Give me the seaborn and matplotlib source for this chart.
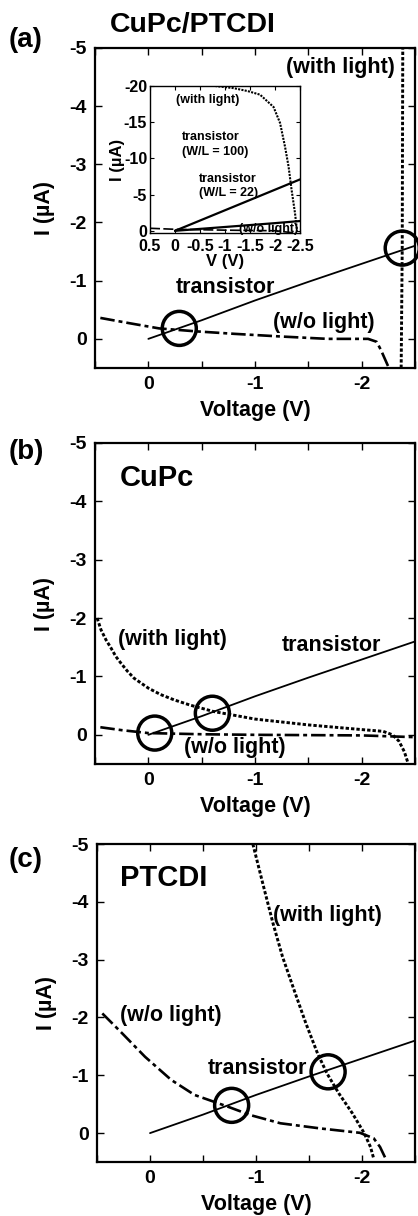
import numpy as np
import pandas as pd
import matplotlib
matplotlib.use("Agg")
import matplotlib.pyplot as plt
import seaborn as sns

sns.set_style("ticks")
plt.rcParams["font.family"] = ["Liberation Sans", "DejaVu Sans"]
plt.rcParams["font.weight"] = "bold"
plt.rcParams["axes.unicode_minus"] = False
for key in ["text.color", "axes.labelcolor", "xtick.color", "ytick.color", "axes.edgecolor"]:
    plt.rcParams[key] = "black"

# ---- panel (a): CuPc/PTCDI ----
a_tr_v = [0.0, -0.5, -1.0, -1.5, -2.0, -2.5]
a_tr_i = [0.0, -0.32, -0.66, -0.98, -1.29, -1.60]
a_dark_v = [0.45, 0.18, -0.1, -0.44, -0.81, -1.25, -1.68, -2.06, -2.14, -2.18, -2.25, -2.26]
a_dark_i = [-0.36, -0.27, -0.18, -0.13, -0.086, -0.04, 0.0, 0.0, 0.05, 0.19, 0.48, 0.5]
a_light_v = [-2.37, -2.38, -2.385]
a_light_i = [0.5, -1.56, -5.0]
a_circ_v = [-0.29, -2.38]
a_circ_i = [-0.18, -1.56]

# inset of (a): wide current range
ins_light_v = [-0.8, -1.17, -1.45, -1.7, -1.97, -2.1, -2.2, -2.27, -2.33, -2.4, -2.43, -2.44]
ins_light_i = [-20.0, -19.7, -19.3, -18.8, -17.1, -14.9, -11.6, -8.9, -5.7, -2.4, -0.6, 0.0]
ins_tr100_v = [0.0, -2.5]
ins_tr100_i = [0.0, -7.1]
ins_tr22_v = [0.0, -1.0, -2.0, -2.5]
ins_tr22_i = [0.0, -0.53, -1.06, -1.35]
ins_dark_v = [0.5, 0.0, -1.0, -2.0, -2.4]
ins_dark_i = [-0.35, -0.21, -0.09, -0.01, 0.3]

# ---- panel (b): CuPc ----
b_tr_v = a_tr_v
b_tr_i = a_tr_i
b_light_v = [0.48, 0.444, 0.398, 0.351, 0.304, 0.258, 0.196, 0.134, 0.071, 0.0, -0.115, -0.24,
             -0.39, -0.61, -1.0, -1.5, -2.0, -2.2, -2.29, -2.35, -2.4, -2.43]
b_light_i = [-2.0, -1.8, -1.63, -1.49, -1.34, -1.23, -1.09, -0.97, -0.89, -0.80, -0.69, -0.60,
             -0.51, -0.40, -0.27, -0.17, -0.09, -0.06, 0.0, 0.11, 0.29, 0.46]
b_dark_v = [0.45, 0.25, 0.0, -0.5, -1.0, -2.0, -2.5]
b_dark_i = [-0.13, -0.08, -0.03, -0.01, 0.0, 0.01, 0.04]
b_circ_v = [-0.06, -0.6]
b_circ_i = [-0.03, -0.37]

# ---- panel (c): PTCDI ----
c_tr_v = a_tr_v
c_tr_i = a_tr_i
c_light_v = [-0.97, -1.08, -1.16, -1.25, -1.36, -1.47, -1.58, -1.67, -1.78, -1.91, -2.02, -2.08, -2.11]
c_light_i = [-5.0, -4.2, -3.63, -3.05, -2.47, -1.9, -1.38, -1.03, -0.69, -0.34, 0.0, 0.24, 0.44]
c_dark_v = [0.45, 0.265, 0.047, -0.2, -0.42, -0.73, -0.95, -1.23, -1.61, -1.98, -2.11, -2.17, -2.23]
c_dark_i = [-2.07, -1.73, -1.32, -0.92, -0.66, -0.46, -0.31, -0.17, -0.08, -0.005, 0.09, 0.24, 0.47]
c_circ_v = [-0.77, -1.68]
c_circ_i = [-0.48, -1.06]

main_ticks_x = [0, -1, -2]
main_ticks_y = [0, -1, -2, -3, -4, -5]
ins_ticks_x = [0.5, 0, -0.5, -1, -1.5, -2, -2.5]
ins_tick_labels_x = ["0.5", "0", "-0.5", "-1", "-1.5", "-2", "-2.5"]
ins_ticks_y = [0, -5, -10, -15, -20]

DOT = (0, (1.15, 0.7))
DASHDOT = (0, (5.5, 1.5, 1.5, 1.5))

LABEL_FS = 15.5


def line(ax, v, i, ls, lw=1.3):
    df = pd.DataFrame({"V": v, "I": i})
    sns.lineplot(data=df, x="V", y="I", ax=ax, sort=False, estimator=None,
                 color="black", linewidth=lw, linestyle=ls)


def circles(ax, v, i):
    df = pd.DataFrame({"V": v, "I": i})
    sns.scatterplot(data=df, x="V", y="I", ax=ax, marker="o", s=600,
                    facecolor="none", edgecolor="black", linewidth=2.5,
                    clip_on=False, zorder=5)


def style_main(ax):
    ax.set_xlim(0.5, -2.5)
    ax.set_ylim(0.5, -5)
    ax.set_xticks(main_ticks_x)
    ax.set_xticklabels([str(t) for t in main_ticks_x])
    ax.set_yticks(main_ticks_y)
    ax.set_yticklabels([str(t) for t in main_ticks_y])
    ax.set_xticks([0.5, -0.5, -1.5, -2.5], minor=True)
    ax.tick_params(which="both", direction="in", top=True, right=True,
                   length=5, width=1, labelsize=14, pad=6)
    for s in ax.spines.values():
        s.set_linewidth(1.6)
    ax.set_xlabel("Voltage (V)", fontsize=LABEL_FS, fontweight="bold", labelpad=5)
    ax.set_ylabel("I (\u00b5A)", fontsize=LABEL_FS, fontweight="bold", labelpad=10)


def note(ax, x, y, s, **kw):
    ax.text(x, y, s, ha=kw.pop("ha", "center"), va="center",
            fontsize=kw.pop("fontsize", LABEL_FS), fontweight="bold", **kw)


fig = plt.figure(figsize=(4.18, 12.16), dpi=100)

# panel (a)
axa = fig.add_axes([0.2273, 0.6974, 0.7656, 0.2632])
line(axa, a_tr_v, a_tr_i, "-")
line(axa, a_dark_v, a_dark_i, DASHDOT, lw=1.9)
line(axa, a_light_v, a_light_i, DOT, lw=2.1)
circles(axa, a_circ_v, a_circ_i)
style_main(axa)
note(axa, -1.80, -4.66, "(with light)")
note(axa, -0.72, -0.89, "transistor")
note(axa, -1.645, -0.28, "(w/o light)")
fig.text(193 / 418, 1 - 25 / 1216, "CuPc/PTCDI", ha="center", va="center", fontsize=20.5, fontweight="bold")
fig.text(26 / 418, 1 - 40 / 1216, "(a)", ha="center", va="center", fontsize=20, fontweight="bold")

# inset
axi = fig.add_axes([0.3589, 0.8084, 0.3589, 0.1209])
line(axi, ins_tr100_v, ins_tr100_i, "-", lw=1.6)
line(axi, ins_tr22_v, ins_tr22_i, "-", lw=1.6)
line(axi, ins_dark_v, ins_dark_i, (0, (6, 2)), lw=1.2)
line(axi, ins_light_v, ins_light_i, (0, (1, 0.6)), lw=1.5)
axi.set_xlim(0.5, -2.5)
axi.set_ylim(0.3, -20)
axi.set_xticks(ins_ticks_x)
axi.set_xticklabels(ins_tick_labels_x)
axi.set_yticks(ins_ticks_y)
axi.set_yticklabels([str(t) for t in ins_ticks_y])
axi.tick_params(direction="in", top=True, right=True, length=3, width=0.8,
                labelsize=11.5, pad=2)
axi.tick_params(axis="x", pad=4)
for s in axi.spines.values():
    s.set_linewidth(1.0)
axi.set_xlabel("V (V)", fontsize=12, fontweight="bold", labelpad=0)
axi.set_ylabel("I (\u00b5A)", fontsize=12, fontweight="bold", labelpad=-1)
note(axi, -0.654, -18.1, "(with light)", fontsize=9)
note(axi, -0.13, -11.9, "transistor\n(W/L = 100)", ha="left", fontsize=9, linespacing=1.3)
note(axi, -0.48, -6.2, "transistor\n(W/L = 22)", ha="left", fontsize=9, linespacing=1.3)
note(axi, -1.87, -0.2, "(w/o light)", fontsize=9)

# panel (b)
axb = fig.add_axes([0.2273, 0.3717, 0.7656, 0.2640])
line(axb, b_tr_v, b_tr_i, "-")
line(axb, b_dark_v, b_dark_i, DASHDOT, lw=1.9)
line(axb, b_light_v, b_light_i, DOT, lw=2.1)
circles(axb, b_circ_v, b_circ_i)
style_main(axb)
axb.text(0.078, 0.89, "CuPc", transform=axb.transAxes, ha="left", va="center", fontsize=21, fontweight="bold")
note(axb, -0.224, -1.64, "(with light)")
note(axb, -1.72, -1.53, "transistor")
note(axb, -0.81, 0.22, "(w/o light)")
fig.text(26 / 418, 1 - 452 / 1216, "(b)", ha="center", va="center", fontsize=20, fontweight="bold")

# panel (c)
axc = fig.add_axes([0.2321, 0.0444, 0.7608, 0.2615])
line(axc, c_tr_v, c_tr_i, "-")
line(axc, c_dark_v, c_dark_i, DASHDOT, lw=1.9)
line(axc, c_light_v, c_light_i, DOT, lw=2.1)
circles(axc, c_circ_v, c_circ_i)
style_main(axc)
axc.text(0.072, 0.893, "PTCDI", transform=axc.transAxes, ha="left", va="center", fontsize=21, fontweight="bold")
note(axc, -1.67, -3.77, "(with light)")
note(axc, -0.2, -2.04, "(w/o light)")
note(axc, -1.01, -1.12, "transistor")
fig.text(26 / 418, 1 - 860 / 1216, "(c)", ha="center", va="center", fontsize=20, fontweight="bold")

fig.savefig("out.png", dpi=100)
